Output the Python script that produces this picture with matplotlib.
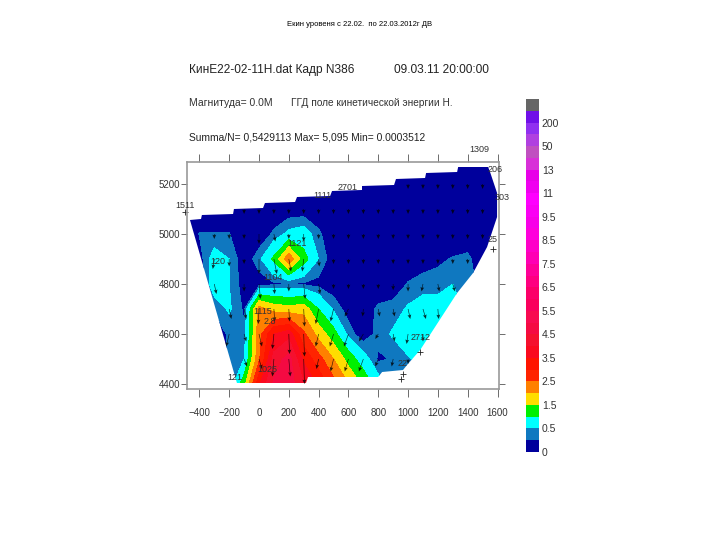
import matplotlib
matplotlib.use("Agg")

import matplotlib.pyplot as plt
from matplotlib.colors import BoundaryNorm, ListedColormap
from matplotlib.patches import PathPatch
from matplotlib.path import Path
import numpy as np

plt.rcParams['font.family'] = ['Liberation Sans', 'DejaVu Sans']

grid_x = [-500, -400, -300, -200, -100, 0, 100, 200, 300, 400, 500,
          600, 700, 800, 900, 1000, 1100, 1200, 1300, 1400, 1500, 1600]
grid_y = [4400, 4500, 4600, 4700, 4800, 4900, 5000, 5100, 5200, 5300]

# kinetic energy, rows from 4400 up
energy = [
    [.05, .05, .05, .20, 1.3, 3.4, 4.6, 4.8, 4.0, 3.4, 2.7, 2.0, 1.4, .70, .25, .10, .10, .10, .10, .10, .05, .05],
    [.05, .05, .05, .30, .50, 2.4, 4.2, 4.7, 3.4, 2.7, 2.0, 1.3, .70, .20, .28, .45, .70, .70, .70, .50, .10, .05],
    [.05, .05, .05, .30, .30, 2.3, 3.5, 3.8, 2.6, 1.8, 1.2, .40, .05, .35, .55, .80, .80, .70, .60, .40, .10, .05],
    [.05, .05, .30, .55, .20, 2.2, 1.8, 1.7, 1.8, 1.0, .45, .10, .10, .30, .35, .55, .70, .70, .70, .40, .10, .05],
    [.05, .10, .70, .50, .10, .10, .20, .20, .20, .15, .05, .05, .05, .05, .08, .27, .35, .35, .50, .40, .10, .05],
    [.05, .10, .70, .50, .05, .40, 1.1, 2.4, 1.2, .50, .05, .05, .05, .05, .05, .05, .12, .20, .27, .30, .10, .05],
    [.05, .26, .26, .26, .05, .05, .30, .60, .70, .30, .05, .05, .05, .05, .05, .05, .05, .05, .05, .10, .05, .05],
    [.05, .05, .05, .05, .05, .05, .05, .05, .05, .05, .05, .05, .05, .05, .05, .05, .05, .05, .05, .05, .05, .05],
    [.05, .05, .05, .05, .05, .05, .05, .05, .05, .05, .05, .05, .05, .05, .05, .05, .05, .05, .05, .05, .05, .05],
    [.05, .05, .05, .05, .05, .05, .05, .05, .05, .05, .05, .05, .05, .05, .05, .05, .05, .05, .05, .05, .05, .05],
]

# arrows at the grid nodes, in map units per row
arrow_u = [
    [0, 0, 0, 0, 5, 5, 0, 10, 0, 0, 0, 0, 0, 0, 0, 0, 0, 0, 0, 0, 0, 0],
    [0, 0, 0, -10, 20, 20, -10, 10, 5, -15, -20, -25, -30, -20, -10, 0, 0, 0, 0, 0, 0, 0],
    [0, 0, 0, -20, 15, 20, -10, 5, 5, -20, -25, -30, -30, -20, 10, -10, 0, 0, -20, 0, 0, 0],
    [0, 0, -15, 15, 15, -5, 5, 5, 5, -20, -20, -25, -5, 10, 10, 15, 20, 5, 20, 0, 0, 0],
    [0, -10, 15, 0, 0, 10, 5, 0, 10, 10, 0, 0, 0, 0, 0, 0, -10, 10, 15, 5, 15, 0],
    [0, 0, -10, 0, 0, 0, 20, 15, -10, 5, 0, 0, 0, 0, 0, 0, 0, 0, 0, 0, 0, 0],
    [0, 0, 0, 0, 0, 0, 10, 0, 0, 0, 0, 0, 0, 0, 0, 0, 0, 0, 0, 0, 0, 0],
    [0, 0, 0, 0, 0, 0, 0, 0, 0, 0, 0, 0, 0, 0, 0, 0, 0, 0, 0, 0, 0, 0],
    [0, 0, 0, 0, 0, 0, 0, 0, 0, 0, 0, 0, 0, 0, 0, 0, 0, 0, 0, 0, 0, 0],
    [0, 0, 0, 0, 0, 0, 0, 0, 0, 0, 0, 0, 0, 0, 0, 0, 0, 0, 0, 0, 0, 0],
]
arrow_v = [
    [0, 0, 0, 0, -30, -30, -40, -50, -40, 0, 0, 0, 0, 0, 0, 0, 0, 0, 0, 0, 0, 0],
    [0, 0, 0, -40, -30, -40, -70, -70, -100, -40, -50, -50, -50, -30, -30, -20, 0, 0, 0, 0, 0, 0],
    [0, 0, 0, -50, -30, -50, -60, -80, -90, -50, -50, -50, -30, -20, -30, -40, -30, 0, -30, 0, 0, 0],
    [0, 0, -40, -40, -40, -60, -50, -50, -70, -60, -50, -30, -30, -30, -30, -40, -40, -40, -30, 0, 0, 0],
    [0, -30, -40, 0, -30, -60, -40, -30, -60, -40, -20, -20, -20, -20, -25, -30, -30, -30, -30, -30, -30, 0],
    [0, -30, -40, -30, -20, -60, -60, -50, -50, -30, -20, -20, -20, -20, -20, -20, -20, -20, -20, -20, -20, 0],
    [0, 0, -20, -20, -20, -40, -30, -20, -30, -20, -20, -20, -20, -20, -20, -20, -20, -20, -20, -20, -20, 0],
    [0, 0, 0, 0, -20, -20, -20, -20, -20, -20, -20, -20, -20, -20, -20, -20, -20, -20, -20, -20, -20, 0],
    [0, 0, 0, 0, 0, 0, 0, 0, 0, 0, 0, -20, -20, -20, -20, -20, -20, -20, -20, -20, -20, 0],
    [0, 0, 0, 0, 0, 0, 0, 0, 0, 0, 0, 0, 0, 0, 0, 0, 0, 0, 0, 0, 0, 0],
]

# edge of the computed area
outline_x = [-463, -389, -383, -174, -168, 27, 40, 242, 255, 477, 490, 691, 691, 906, 919, 1114,
             1121, 1329, 1336, 1537, 1550, 1597, 1597, 1530, 1436, 1329, 1081, 993, 966, 826, 799,
             329, 315, -148]
outline_y = [5056, 5060, 5076, 5080, 5100, 5104, 5124, 5128, 5148, 5152, 5172, 5176, 5192, 5196, 5220, 5224,
             5244, 5248, 5268, 5268, 5248, 5164, 5068, 4948, 4844, 4764, 4536, 4476, 4456, 4448, 4428,
             4428, 4404, 4404]

station_names = ['1309', '1511', '2701', '1111', '303', '206', '25', '1121', '120', '1104',
                 '1115', '2.8', '1025', '121', '2712', '22']
station_x = [1477, -497, 597, 423, 1631, 1584, 1570, 255, -275, 94, 27, 74, 54, -161, 1081, 966]
station_y = [5336, 5116, 5184, 5156, 5148, 5256, 4980, 4960, 4888, 4828, 4688, 4648, 4456, 4424, 4584, 4484]
cross_x = [-497, 966, 1081, 1570, 955]
cross_y = [5090, 4440, 4530, 4940, 4420]

levels = [0, .25, .5, 1, 1.5, 2, 2.5, 3, 3.5, 4, 4.5, 5, 5.5, 6, 6.5, 7, 7.5, 8, 8.5, 9, 9.5,
          10, 11, 12, 13, 20, 50, 100, 200, 500, 1000]
level_colors = ['#00009c', '#0f78c0', '#00ffff', '#00f000', '#ffdd00', '#ff8000', '#ff2400', '#ff1400',
                '#fa0a1e', '#f5102e', '#f50a42', '#f80a50', '#fa005c', '#fc0068', '#ff0080', '#ff0098',
                '#ff00b4', '#ff00c8', '#ff00dc', '#f800e8', '#fb00f4', '#ff00ff', '#f000f0', '#e800e8',
                '#d830d8', '#c050c0', '#b040e0', '#9030f0', '#7010e8', '#666666']
bar_ticks = [0, .5, 1.5, 2.5, 3.5, 4.5, 5.5, 6.5, 7.5, 8.5, 9.5, 11, 13, 50, 200]
bar_labels = ['0', '0.5', '1.5', '2.5', '3.5', '4.5', '5.5', '6.5', '7.5', '8.5', '9.5', '11', '13', '50', '200']

fig = plt.figure(figsize=(7.2, 5.4), dpi=100)
ax = fig.add_axes([187/720, 1 - 389/540, 312/720, 227/540])

cmap = ListedColormap(level_colors)
norm = BoundaryNorm(levels, cmap.N)
cf = ax.contourf(grid_x, grid_y, np.array(energy), levels=levels, cmap=cmap, norm=norm)
domain = PathPatch(Path(np.column_stack([outline_x, outline_y])), transform=ax.transData,
                   facecolor='none', edgecolor='none')
ax.add_patch(domain)
cf.set_clip_path(domain)

gx, gy = np.meshgrid(grid_x, grid_y)
u = np.array(arrow_u, dtype=float)
v = np.array(arrow_v, dtype=float)
keep = domain.get_path().contains_points(np.column_stack([gx.ravel(), gy.ravel()])) & (v.ravel() != 0)
ax.quiver(gx.ravel()[keep], gy.ravel()[keep], u.ravel()[keep], v.ravel()[keep],
          angles='xy', scale_units='xy', scale=1, color='black', alpha=0.8,
          width=0.002, headwidth=6, headlength=7, headaxislength=6, minlength=0.5)
ax.plot(cross_x, cross_y, '+', color='#222222', ms=5, mew=0.6, clip_on=False)

for name, sx, sy in zip(station_names, station_x, station_y):
    ax.text(sx, sy, name, fontsize=6.5, color='#333333', ha='center', va='center')

ax.set_xlim(-483, 1610)
ax.set_ylim(4380, 5288)
ax.set_xticks(range(-400, 1601, 200))
ax.set_yticks([4400, 4600, 4800, 5000, 5200])
ax.tick_params(top=True, right=True, length=6, width=0.6, color='#555555', labelsize=7,
               labelcolor='#333333', pad=8)
ax.tick_params(axis='y', pad=1, length=4)
for side, spine in ax.spines.items():
    spine.set_color('#999999')
    spine.set_linewidth(1.2)

cax = fig.add_axes([526/720, 1 - 452/540, 13/720, 353/540])
cb = fig.colorbar(cf, cax=cax, spacing='uniform', ticks=bar_ticks)
cb.ax.set_yticklabels(bar_labels)
cb.ax.minorticks_off()
cb.ax.tick_params(length=0, labelsize=7.5, labelcolor='#333333', pad=2)
cb.outline.set_visible(False)

fig.text(360/720, 1 - 24/540, 'Екин уровеня с 22.02.  по 22.03.2012г ДВ', fontsize=5.5,
         color='black', ha='center', va='center')
fig.text(189/720, 1 - 70/540, 'КинЕ22-02-11Н.dat Кадр N386', fontsize=8.6, color='#222222', va='center')
fig.text(394/720, 1 - 70/540, '09.03.11 20:00:00', fontsize=8.6, color='#222222', va='center')
fig.text(189/720, 1 - 103/540, 'Магнитуда= 0.0М', fontsize=7.5, color='#333333', va='center')
fig.text(291/720, 1 - 103/540, 'ГГД поле кинетической энергии Н.', fontsize=7.3, color='#333333', va='center')
fig.text(189/720, 1 - 137/540, 'Summa/N= 0,5429113 Max= 5,095 Min= 0.0003512', fontsize=7.4,
         color='#222222', va='center')

fig.savefig('out.png', dpi=100)
plt.close(fig)
